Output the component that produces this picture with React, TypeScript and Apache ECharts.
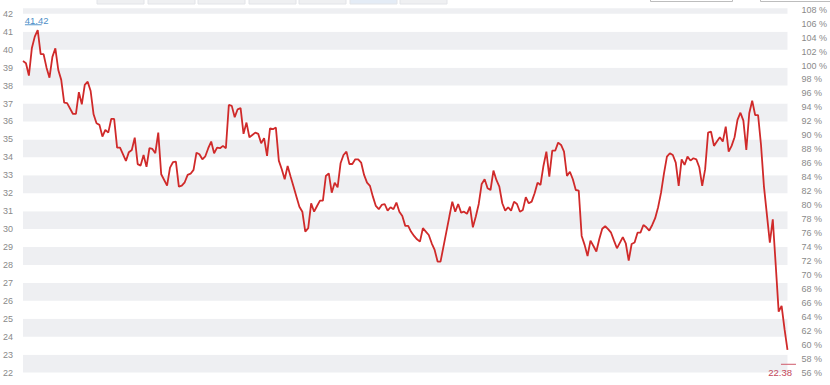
import React, { useEffect, useRef } from "react";
import * as echarts from "echarts";

// trading-day index (x) and closing price (left axis)
const days = [
  0, 1, 2, 3, 4, 5, 6, 7, 8, 9, 10, 11, 12, 13, 14, 15, 17, 18, 19, 20,
  21, 22, 23, 24, 25, 26, 27, 28, 29, 30, 31, 32, 33, 35, 36, 37, 38, 39, 40, 41,
  42, 43, 44, 45, 46, 47, 49, 50, 51, 52, 53, 54, 55, 56, 57, 58, 59, 60, 61, 62,
  63, 64, 65, 66, 67, 68, 69, 70, 71, 72, 73, 74, 75, 76, 77, 78, 79, 80, 81, 82,
  83, 84, 85, 86, 87, 88, 89, 90, 91, 92, 93, 94, 95, 96, 97, 98, 99, 100, 101, 102,
  103, 104, 105, 106, 107, 108, 109, 110, 111, 112, 113, 114, 115, 116, 117, 118, 119, 120, 121, 122,
  123, 124, 125, 126, 127, 128, 129, 130, 131, 132, 133, 134, 135, 136, 137, 138, 139, 140, 141, 142,
  143, 144, 145, 146, 147, 148, 149, 150, 151, 152, 153, 154, 155, 156, 157, 158, 159, 160, 161, 162,
  163, 164, 165, 166, 167, 168, 169, 170, 171, 172, 173, 174, 175, 176, 177, 178, 179, 180, 181, 182,
  183, 184, 185, 186, 187, 188, 189, 190, 191, 192, 193, 194, 195, 196, 197, 198, 199, 200, 201, 202,
  204, 205, 206, 207, 208, 209, 210, 211, 212, 213, 214, 215, 216, 217, 218, 219, 220, 221, 222, 223,
  224, 225, 226, 227, 228, 229, 230, 231, 232, 233, 234, 235, 236, 237, 238, 239, 240, 241, 242, 243,
  244, 245, 246, 247, 248, 249, 250, 251, 252, 254, 255, 256, 257, 258, 259, 260,
];
const closes = [
  39.37, 39.25, 38.56, 40.08, 40.73, 41.1, 39.75, 39.75, 39.0, 38.44, 39.6, 40.08, 38.87, 38.32, 37.05, 37.02, 36.42, 36.42, 37.63, 36.96,
  38.04, 38.22, 37.7, 36.4, 35.9, 35.81, 35.16, 35.53, 35.38, 36.14, 36.14, 34.54, 34.54, 33.8, 34.29, 34.41, 35.1, 33.62, 33.54, 34.13,
  33.47, 34.51, 34.47, 34.23, 35.38, 33.06, 32.42, 33.43, 33.73, 33.76, 32.37, 32.42, 32.61, 33.02, 33.09, 33.3, 34.26, 34.17, 33.89, 34.06,
  34.51, 34.88, 34.23, 34.54, 34.51, 34.64, 34.51, 36.92, 36.87, 36.24, 36.68, 36.74, 35.31, 35.94, 35.12, 35.25, 35.38, 35.31, 34.79, 35.07,
  34.08, 35.62, 35.57, 35.66, 33.82, 33.34, 32.78, 33.52, 32.93, 32.37, 31.81, 31.25, 30.97, 29.86, 30.05, 31.44, 30.97, 31.29, 31.59, 31.59,
  32.96, 33.11, 32.03, 32.59, 32.33, 33.67, 34.13, 34.32, 33.63, 33.63, 33.89, 33.89, 33.71, 33.02, 32.59, 32.41, 31.81, 31.29, 31.11, 31.35,
  31.4, 31.03, 31.22, 31.11, 31.48, 30.97, 30.73, 30.18, 30.18, 29.85, 29.62, 29.43, 29.3, 30.05, 29.86, 29.67, 29.21, 28.84, 28.19, 28.19,
  29.02, 29.86, 30.7, 31.53, 30.97, 31.4, 30.92, 30.97, 30.85, 31.25, 30.1, 30.7, 31.4, 32.52, 32.78, 32.28, 32.18, 33.26, 32.74, 32.37,
  31.44, 31.03, 31.22, 31.03, 31.53, 31.4, 30.97, 31.07, 31.78, 31.44, 31.53, 32.0, 32.59, 32.46, 33.52, 34.32, 32.93, 34.37, 34.37, 34.82,
  34.69, 34.32, 32.96, 33.2, 32.78, 32.18, 32.15, 29.62, 29.12, 28.5, 29.36, 29.06, 28.75, 29.45, 30.02, 30.16, 30.0, 29.8, 29.36, 28.93,
  29.55, 29.21, 28.24, 29.17, 29.25, 29.8, 29.8, 30.23, 30.1, 29.92, 30.23, 30.61, 31.22, 32.03, 33.11, 34.04, 34.23, 34.13, 33.71, 32.41,
  33.89, 33.58, 34.04, 33.82, 33.95, 33.89, 33.45, 32.41, 33.34, 35.38, 35.43, 34.64, 34.88, 35.12, 34.88, 35.71, 34.32, 34.64, 35.12, 36.09,
  36.49, 36.05, 34.41, 36.46, 37.16, 36.36, 36.36, 34.69, 32.37, 29.25, 30.55, 28.0, 25.4, 25.72, 24.42, 23.27,
];

const highLabel = "41.42";
const highValue = 41.42;
const highDay = 5;
const lowLabel = "22.38";
const lowValue = 22.38;
const lowDay = 260;

const priceMin = 22;
const priceMax = 42.31;
const pctMin = 56;
const pctMax = 108.2;

const FONT = "'Liberation Sans', Arial, Helvetica, sans-serif";

export default function App() {
  const ref = useRef<HTMLDivElement>(null);

  useEffect(() => {
    if (!ref.current) return;
    const chart = echarts.init(ref.current, undefined, { renderer: "svg" });
    const data = days.map((d, i) => [d, closes[i]]);

    chart.setOption({
      animation: false,
      textStyle: { fontFamily: FONT },
      grid: { left: 23, right: 41, top: 8.3, bottom: 12.4, containLabel: false },
      xAxis: {
        type: "value",
        min: 0,
        max: 260,
        show: false,
      },
      yAxis: [
        {
          type: "value",
          position: "left",
          min: priceMin,
          max: priceMax,
          interval: 1,
          axisLine: { show: false },
          axisTick: { show: false },
          splitLine: { show: false },
          splitArea: { show: true, areaStyle: { color: ["#eeeff2", "#ffffff"] } },
          axisLabel: {
            color: "#8a8a8a",
            fontSize: 9,
            fontFamily: FONT,
            margin: 10,
            showMaxLabel: false,
          },
        },
        {
          type: "value",
          position: "right",
          min: pctMin,
          max: pctMax,
          interval: 2,
          axisLine: { show: false },
          axisTick: { show: false },
          splitLine: { show: false },
          splitArea: { show: false },
          axisLabel: {
            color: "#8a8a8a",
            fontSize: 9,
            fontFamily: FONT,
            margin: 14,
            showMaxLabel: false,
            formatter: "{value} %",
          },
        },
      ],
      series: [
        {
          type: "line",
          data,
          xAxisIndex: 0,
          yAxisIndex: 0,
          symbol: "none",
          lineStyle: { color: "#d02a2a", width: 1.8 },
          clip: false,
        },
      ],
    });

    const hp = chart.convertToPixel({ xAxisIndex: 0, yAxisIndex: 0 }, [highDay, highValue]) as number[];
    const lp = chart.convertToPixel({ xAxisIndex: 0, yAxisIndex: 0 }, [lowDay, lowValue]) as number[];

    const tabXs = [97, 148, 198, 249, 299, 350, 400];
    const tabs = tabXs.map((x, i) => ({
      type: "rect",
      shape: { x, y: -8, width: 47, height: 12 },
      style: { fill: i === 5 ? "#e4ecf6" : "#eff0f2", stroke: "#e2e4e8", lineWidth: 1 },
      silent: true,
    }));

    chart.setOption({
      graphic: [
        ...tabs,
        {
          type: "rect",
          shape: { x: 650.5, y: -10, width: 82, height: 11.5 },
          style: { fill: "#ffffff", stroke: "#bdbdbd", lineWidth: 1 },
          silent: true,
        },
        {
          type: "rect",
          shape: { x: 760.5, y: -10, width: 80, height: 11.5 },
          style: { fill: "#ffffff", stroke: "#bdbdbd", lineWidth: 1 },
          silent: true,
        },
        {
          type: "line",
          shape: { x1: hp[0] - 12.8, y1: hp[1] + 0.5, x2: hp[0] + 4, y2: hp[1] + 0.5 },
          style: { stroke: "#5a97cc", lineWidth: 1 },
          silent: true,
        },
        {
          type: "text",
          x: hp[0] - 13,
          y: hp[1] + 1.2,
          style: {
            text: highLabel,
            fill: "#4f8fc8",
            fontSize: 9.5,
            fontFamily: FONT,
            textAlign: "left",
            textVerticalAlign: "bottom",
          },
          silent: true,
        },
        {
          type: "line",
          shape: { x1: lp[0] - 6.5, y1: lp[1] - 1.5, x2: lp[0] + 8.5, y2: lp[1] - 1.5 },
          style: { stroke: "#cf5a6a", lineWidth: 1 },
          silent: true,
        },
        {
          type: "text",
          x: lp[0] + 4.5,
          y: lp[1] + 6.6,
          style: {
            text: lowLabel,
            fill: "#c4475a",
            fontSize: 9.5,
            fontFamily: FONT,
            textAlign: "right",
            textVerticalAlign: "middle",
          },
          silent: true,
        },
      ],
    });

    return () => chart.dispose();
  }, []);

  return (
    <div
      ref={ref}
      style={{ position: "absolute", left: 0, top: 0, width: 830, height: 385, background: "#fff" }}
    />
  );
}
